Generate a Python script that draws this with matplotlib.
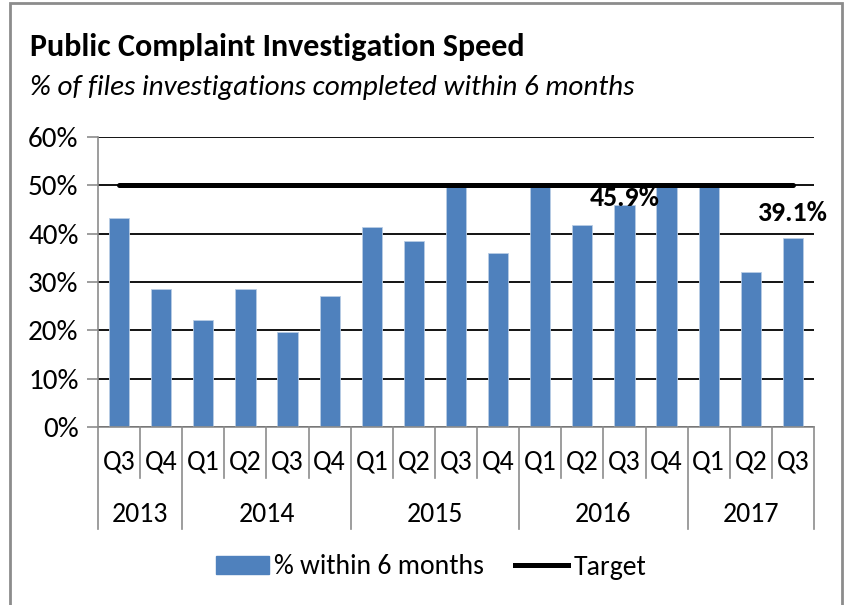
"""Public complaint investigation speed - quarterly bar chart with target line."""

import matplotlib

matplotlib.use("Agg")

import matplotlib.pyplot as plt
from matplotlib.lines import Line2D
from matplotlib.patches import Patch, Rectangle
import numpy as np

quarters = ["Q3", "Q4", "Q1", "Q2", "Q3", "Q4", "Q1", "Q2", "Q3", "Q4",
            "Q1", "Q2", "Q3", "Q4", "Q1", "Q2", "Q3"]
years = ["2013", "2014", "2015", "2016", "2017"]
year_counts = [2, 4, 4, 4, 3]
pct_within = [43.2, 28.6, 22.1, 28.6, 19.6, 27.1, 41.3, 38.4, 50.0, 36.1,
              50.0, 41.7, 45.9, 50.0, 50.0, 32.0, 39.1]
target = [50.0] * len(quarters)
labelled = {12: "45.9%", 16: "39.1%"}

BLUE = "#4F81BD"
GRAY = "#8C8C8C"
FONT = ["Carlito", "Liberation Sans Narrow", "DejaVu Sans"]
plt.rcParams["font.family"] = FONT
FS = 20

W, H = 846, 605
fig = plt.figure(figsize=(W / 100, H / 100), dpi=100)
x0, x1, y0, y1 = 98, 814, 427, 137
ax = fig.add_axes([x0 / W, 1 - y0 / H, (x1 - x0) / W, (y0 - y1) / H])

x = np.arange(len(quarters))
ax.bar(x, pct_within, width=0.48, color=BLUE, edgecolor="#B9CDE5",
       linewidth=0.6, zorder=2)
ax.plot(x, target, color="black", linewidth=3.6, solid_capstyle="round",
        zorder=4)

for i, txt in labelled.items():
    off = 7 if i == 12 else 25
    ax.annotate(txt, (x[i], pct_within[i]), xytext=(0, off),
                textcoords="offset pixels", ha="center", va="center",
                fontsize=FS, fontweight="bold", zorder=5)

ax.set_xlim(-0.5, len(quarters) - 0.5)
ax.set_ylim(0, 60)
ax.set_yticks(np.arange(0, 61, 10))
ax.set_yticklabels([f"{v}%" for v in range(0, 61, 10)], fontsize=21)
ax.yaxis.grid(True, color="black", linewidth=1.3, zorder=1)
ax.set_axisbelow(True)
ax.tick_params(axis="y", length=8, color=GRAY, width=1.2, pad=6)
ax.set_xticks([])
for side in ("top", "right"):
    ax.spines[side].set_visible(False)
for side in ("left", "bottom"):
    ax.spines[side].set_color(GRAY)
    ax.spines[side].set_linewidth(1.2)

# two-level category axis
h = y0 - y1
xt = ax.get_xaxis_transform()
for i, q in enumerate(quarters):
    ax.text(i, -(462 - y0) / h, q, transform=xt, ha="center", va="center",
            fontsize=FS)
edges = np.concatenate([[0], np.cumsum(year_counts)])
for b in range(len(quarters) + 1):
    low = -(529 - y0) / h if b in edges else -(478 - y0) / h
    ax.add_line(Line2D([b - 0.5, b - 0.5], [0, low], transform=xt,
                       color=GRAY, linewidth=1.2, clip_on=False))
for yr, a, b in zip(years, edges[:-1], edges[1:]):
    ax.text((a + b - 1) / 2, -(515 - y0) / h, yr, transform=xt, ha="center",
            va="center", fontsize=FS)

fig.text(30 / W, 1 - 47 / H, "Public Complaint Investigation Speed",
         fontsize=23, fontweight="bold", va="center", ha="left")
fig.text(30 / W, 1 - 88 / H, "% of files investigations completed within 6 months",
         fontsize=21, style="italic", va="center", ha="left")

handles = [Patch(facecolor=BLUE, edgecolor=BLUE),
           Line2D([], [], color="black", linewidth=3.6)]
fig.legend(handles, ["% within 6 months", "Target"], loc="center",
           bbox_to_anchor=(431 / W, 1 - 567 / H), ncol=2, frameon=False,
           fontsize=FS, handlelength=1.9, handleheight=0.6,
           handletextpad=0.2, columnspacing=1.1)

fig.add_artist(Rectangle((10 / W, -0.01), (842 - 10) / W, 1 - 3 / H + 0.01,
                         transform=fig.transFigure, fill=False,
                         edgecolor=GRAY, linewidth=2))

fig.savefig("out.png", dpi=100)
